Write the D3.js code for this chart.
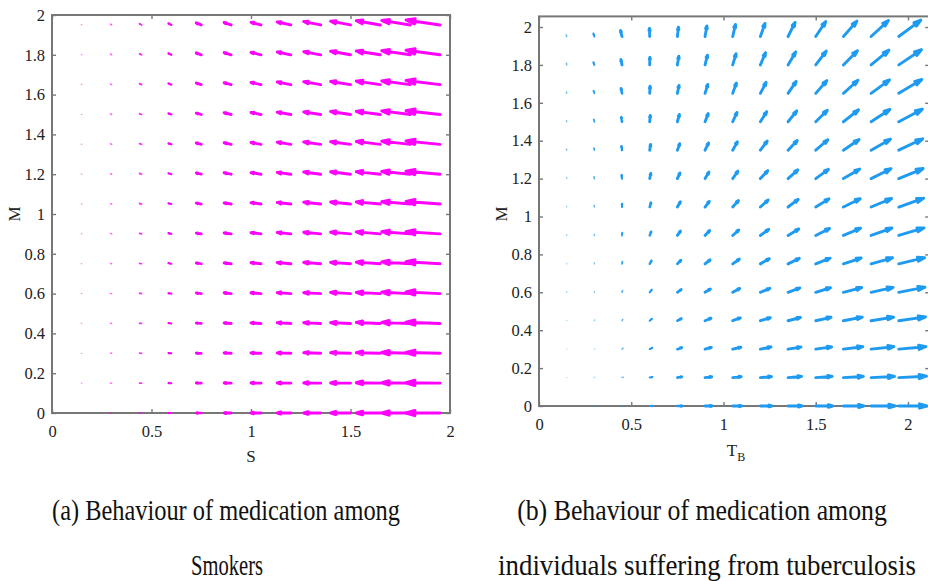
<!DOCTYPE html>
<html>
<head>
<meta charset="utf-8">
<script src="https://cdn.jsdelivr.net/npm/d3@7"></script>
<style>
  html, body { margin: 0; padding: 0; background: #ffffff; }
  svg { display: block; }
</style>
</head>
<body>
<svg id="chart" width="928" height="581"></svg>
<script>
// ---------------- data ----------------
// quiver grid positions (data units)
const gridLeftS  = [0, 0.15, 0.3, 0.45, 0.6, 0.75, 0.9, 1.05, 1.2, 1.35, 1.5, 1.65, 1.8, 1.95];
const gridLeftM  = [0, 0.15, 0.3, 0.45, 0.6, 0.75, 0.9, 1.05, 1.2, 1.35, 1.5, 1.65, 1.8, 1.95];
const gridRightT = [0, 0.15, 0.3, 0.45, 0.6, 0.75, 0.9, 1.05, 1.2, 1.35, 1.5, 1.65, 1.8, 1.95];
const gridRightM = [0, 0.15, 0.3, 0.45, 0.6, 0.75, 0.9, 1.05, 1.2, 1.35, 1.5, 1.65, 1.8, 1.95];

// (a) horizontal components, thousandths of a data unit, one per S column (identical on every M row)
const leftU = [-2, -3, -6, -10, -15, -25, -35, -50, -68, -85, -100, -121, -143, -171];
// (a) vertical components, thousandths, rows = M (bottom to top), columns = S
const leftV = [
  [0,0,0,0,0,0,0,0,0,0,0,0,0,0],
  [0,0,0,0,1,1,1,1,1,1,1,2,2,2],
  [0,0,1,1,1,1,2,2,2,3,3,3,4,4],
  [0,0,1,1,2,2,3,3,4,4,4,5,5,6],
  [0,1,1,2,2,3,4,4,5,5,6,6,7,8],
  [0,1,1,2,3,4,4,5,6,7,7,8,9,10],
  [0,1,2,3,4,4,5,6,7,8,9,10,11,11],
  [0,1,2,3,4,5,6,7,8,9,10,11,12,13],
  [0,1,2,4,5,6,7,8,9,11,12,13,14,15],
  [0,1,3,4,5,7,8,9,11,12,13,15,16,17],
  [0,1,3,4,6,7,9,10,12,13,15,16,18,19],
  [0,2,3,5,6,8,10,11,13,15,16,18,19,21],
  [0,2,4,5,7,9,11,12,14,16,18,19,21,23],
  [0,2,4,6,8,10,12,13,15,17,19,21,23,25]
];

// (b) horizontal components, thousandths, rows = M (bottom to top), columns = T_B
const rightU = [
  [0,2,4,8,16,27,38,49,62,76,92,111,130,152],
  [0,1,3,7,15,25,36,46,60,73,89,108,127,150],
  [0,1,2,6,14,24,34,44,57,70,86,105,124,147],
  [0,1,2,4,12,22,32,41,54,67,83,102,122,145],
  [0,1,1,3,11,21,29,38,51,64,80,99,119,142],
  [0,0,0,2,10,19,27,36,48,61,78,96,116,140],
  [0,0,0,1,8,17,25,33,45,58,75,93,113,137],
  [0,0,-1,0,7,16,23,31,42,55,72,91,111,135],
  [0,0,-2,-2,6,14,21,28,40,53,69,88,108,132],
  [0,-1,-2,-3,5,13,19,25,37,50,66,85,105,130],
  [0,-1,-3,-4,3,11,17,23,34,47,63,82,102,128],
  [0,-1,-4,-5,2,9,15,20,31,44,60,79,100,125],
  [0,-1,-5,-6,1,8,13,18,28,41,57,76,97,123],
  [0,-2,-5,-8,-1,6,10,15,25,38,54,73,94,120]
];
// (b) vertical components, thousandths
const rightV = [
  [0,0,0,0,0,0,0,0,0,0,0,0,0,0],
  [0,1,1,2,3,4,4,5,5,6,6,6,6,7],
  [0,1,2,5,7,8,9,10,11,11,12,13,13,13],
  [0,2,4,7,10,11,13,15,16,17,18,19,19,20],
  [1,3,5,9,13,15,17,20,21,23,24,25,26,27],
  [1,3,6,12,17,19,21,25,27,29,30,31,32,33],
  [1,4,7,14,20,23,26,29,32,34,37,38,39,40],
  [1,4,8,17,23,27,30,34,37,40,43,44,45,47],
  [1,5,9,19,27,30,34,39,42,46,49,50,52,53],
  [1,6,11,21,30,34,38,44,48,51,55,56,58,60],
  [2,6,12,24,33,38,43,49,53,57,61,63,65,66],
  [2,7,13,26,37,42,47,54,58,63,67,69,71,73],
  [2,8,14,28,40,46,51,59,64,68,73,75,78,80],
  [2,8,15,31,43,49,56,64,69,74,79,81,84,86]
];

// ticks
const xTicks = [0, 0.5, 1, 1.5, 2];
const xTickLabels = ["0", "0.5", "1", "1.5", "2"];
const yTicks = [0, 0.2, 0.4, 0.6, 0.8, 1, 1.2, 1.4, 1.6, 1.8, 2];
const yTickLabels = ["0", "0.2", "0.4", "0.6", "0.8", "1", "1.2", "1.4", "1.6", "1.8", "2"];

const captionA = ["(a) Behaviour of medication among", "Smokers"];
const captionB = ["(b) Behaviour of medication among", "individuals suffering from tuberculosis"];

// ---------------- drawing ----------------
const svg = d3.select("#chart");
const SERIF = "'Liberation Serif', 'DejaVu Serif', serif";
const AXIS = "#777777";
const TXT = "#222222";

function drawAxes(g, x, y) {
  const [x0, x1] = x.range();
  const [y0, y1] = y.range(); // y0 bottom, y1 top
  const fmtX = d => xTickLabels[xTicks.indexOf(d)];
  const fmtY = d => yTickLabels[yTicks.indexOf(d)];

  const bottom = g.append("g").attr("transform", `translate(0,${y0})`)
    .call(d3.axisBottom(x).tickValues(xTicks).tickFormat(fmtX).tickSizeInner(-4).tickSizeOuter(0).tickPadding(12));
  const left = g.append("g").attr("transform", `translate(${x0},0)`)
    .call(d3.axisLeft(y).tickValues(yTicks).tickFormat(fmtY).tickSizeInner(-4).tickSizeOuter(0).tickPadding(7));
  const top = g.append("g").attr("transform", `translate(0,${y1})`)
    .call(d3.axisTop(x).tickValues(xTicks).tickFormat("").tickSizeInner(-4).tickSizeOuter(0));
  const right = g.append("g").attr("transform", `translate(${x1},0)`)
    .call(d3.axisRight(y).tickValues(yTicks).tickFormat("").tickSizeInner(-4).tickSizeOuter(0));

  [bottom, left, top, right].forEach(a => {
    a.attr("font-family", null).attr("font-size", null);
    a.select(".domain").remove();
    a.selectAll(".tick line").attr("stroke", AXIS).attr("stroke-width", 1.4);
    a.selectAll(".tick text").attr("fill", TXT)
      .style("font-family", SERIF).style("font-size", "16.5px");
  });

  g.append("rect")
    .attr("x", x0).attr("y", y1)
    .attr("width", x1 - x0).attr("height", y0 - y1)
    .attr("fill", "none").attr("stroke", AXIS).attr("stroke-width", 2);
}

function drawQuiver(g, x, y, xs, ys, uAt, vAt, color) {
  const arrows = [];
  ys.forEach((m, i) => {
    xs.forEach((s, j) => {
      const u = uAt(i, j) / 1000, v = vAt(i, j) / 1000;
      const xa = x(s), ya = y(m), xb = x(s + u), yb = y(m + v);
      arrows.push({ xa, ya, xb, yb, len: Math.hypot(xb - xa, yb - ya) });
    });
  });
  g.selectAll("path.arrow").data(arrows).join("path")
    .attr("class", "arrow")
    .attr("fill", "none")
    .attr("stroke", color)
    .attr("stroke-linecap", "round")
    .attr("stroke-linejoin", "round")
    .attr("stroke-width", d => Math.max(1, Math.min(2.9, 1 + d.len * 0.35)))
    .attr("stroke-opacity", d => Math.min(1, 0.3 + d.len * 0.25))
    .attr("d", d => {
      const dx = d.xb - d.xa, dy = d.yb - d.ya;
      const a = 0.26, b = 0.3;
      const h1x = d.xb - a * (dx + b * dy), h1y = d.yb - a * (dy - b * dx);
      const h2x = d.xb - a * (dx - b * dy), h2y = d.yb - a * (dy + b * dx);
      return `M${d.xa},${d.ya}L${d.xb},${d.yb}M${h1x},${h1y}L${d.xb},${d.yb}L${h2x},${h2y}Z`;
    });
}

// ----- panel (a) -----
const xA = d3.scaleLinear().domain([0, 2]).range([52, 450]);
const yA = d3.scaleLinear().domain([0, 2]).range([413, 15]);
const gA = svg.append("g");
drawAxes(gA, xA, yA);
drawQuiver(gA, xA, yA, gridLeftS, gridLeftM, (i, j) => leftU[j], (i, j) => leftV[i][j], "#ff00ff");
gA.append("text").attr("x", 251).attr("y", 462).attr("text-anchor", "middle")
  .style("font-family", SERIF).style("font-size", "17px").attr("fill", TXT).text("S");
gA.append("text").attr("transform", "translate(20,214) rotate(-90)").attr("text-anchor", "middle")
  .style("font-family", SERIF).style("font-size", "17px").attr("fill", TXT).text("M");

// ----- panel (b) -----
const xB = d3.scaleLinear().domain([0, 2.115]).range([539, 929.2]);
const yB = d3.scaleLinear().domain([0, 2.056]).range([406, 16.4]);
const gB = svg.append("g");
drawAxes(gB, xB, yB);
drawQuiver(gB, xB, yB, gridRightT, gridRightM, (i, j) => rightU[i][j], (i, j) => rightV[i][j], "#1e9af0");
const tb = gB.append("text").attr("x", 736).attr("y", 456).attr("text-anchor", "middle")
  .style("font-family", SERIF).style("font-size", "17px").attr("fill", TXT);
tb.append("tspan").text("T");
tb.append("tspan").style("font-size", "12px").attr("dy", 5).text("B");
gB.append("text").attr("transform", "translate(507,214) rotate(-90)").attr("text-anchor", "middle")
  .style("font-family", SERIF).style("font-size", "17px").attr("fill", TXT).text("M");

// ----- captions (condensed serif, horizontally scaled to the reference widths) -----
function caption(text, cx, baseline, width) {
  const t = svg.append("text")
    .attr("x", 0).attr("y", 0).attr("text-anchor", "middle")
    .style("font-family", SERIF).style("font-size", "29px").attr("fill", "#111")
    .text(text);
  const natural = t.node().getComputedTextLength();
  const sx = width / natural;
  t.attr("transform", `translate(${cx},${baseline}) scale(${sx},1)`);
}
caption(captionA[0], 226, 520, 348);
caption(captionA[1], 227, 575, 72);
caption(captionB[0], 702, 520, 370);
caption(captionB[1], 707, 575, 418);
</script>
</body>
</html>
